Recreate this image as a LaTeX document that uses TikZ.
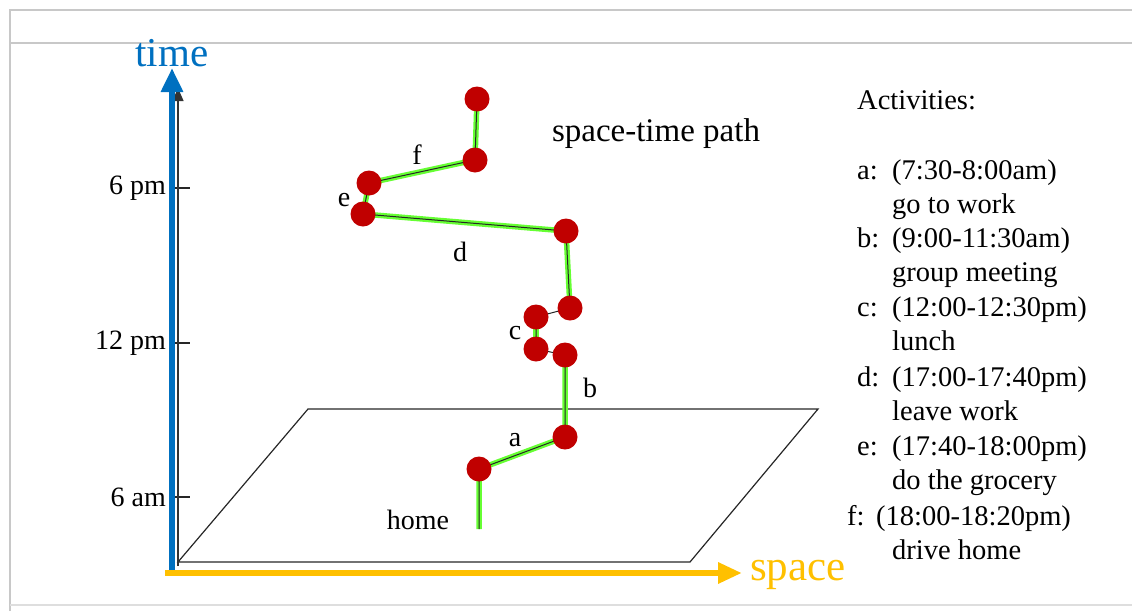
\documentclass[tikz,border=0pt]{standalone}
\usepackage{fontspec}
\setmainfont{Liberation Serif}
\usetikzlibrary{arrows.meta}
\definecolor{tblue}{HTML}{0070C0}
\definecolor{sorange}{HTML}{FFC000}
\definecolor{dred}{HTML}{C00000}
\definecolor{pgreen}{HTML}{66FF33}
\definecolor{framegray}{HTML}{C8C8C8}
\tikzset{
  dot/.style={circle,fill=dred,draw=none,minimum size=25pt,inner sep=0pt},
  gseg/.style={pgreen,line width=5.5pt},
  bseg/.style={black!85,line width=1pt},
  lbl/.style={font=\fontsize{28}{34}\selectfont,inner sep=0pt},
  lst/.style={font=\fontsize{28.5}{34}\selectfont,inner sep=0pt,anchor=base west},
}
\begin{document}
\begin{tikzpicture}[x=1pt,y=-1pt]
\useasboundingbox (0,0) rectangle (1132,611);
% frame
\draw[framegray,line width=2pt] (10,611) -- (10,10) -- (1132,10);
\draw[framegray,line width=2pt] (10,43) -- (1132,43);
\draw[framegray!60,line width=1.5pt] (10,605) -- (1132,605);
% plane
\draw[black!85,line width=1.2pt] (178,562) -- (690,562) -- (818,409) -- (308,409) -- cycle;
% ticks
\foreach \y/\t/\n in {188/6 pm/tpm,343/12 pm/tnoon,497/6 am/tam}{
  \coordinate (\n) at (172,\y);
  \draw[black!85,line width=1.2pt] (\n) -- ++(18,0);
  \node[lbl,anchor=east] at (166,\y) {\t};
}
% axes
\coordinate (ttip) at (172,68);
\coordinate (stip) at (742,573);
\draw[black!80,line width=1.2pt,-{Triangle[length=13pt,width=11pt]}] (178,566) -- (178,88);
\draw[tblue,line width=6pt,-{Triangle[length=24pt,width=21pt]}] (172,570) -- (ttip);
\draw[sorange,line width=6pt,-{Triangle[length=24pt,width=20pt]}] (165,573) -- (stip);
\node[font=\fontsize{41}{41}\selectfont,text=tblue,inner sep=0pt,anchor=base] (time) at (172,66) {time};
\node[font=\fontsize{43}{43}\selectfont,text=sorange,inner sep=0pt,anchor=base west] (space) at (750,580) {space};
% path points
\coordinate (h) at (479,529);
\coordinate (p1) at (479,469);
\coordinate (p2) at (565,437);
\coordinate (p3) at (565,355);
\coordinate (p4) at (536,349);
\coordinate (p5) at (536,317);
\coordinate (p6) at (570,308);
\coordinate (p7) at (566,231);
\coordinate (p8) at (363,214);
\coordinate (p9) at (369,183);
\coordinate (p10) at (475,160);
\coordinate (p11) at (477,99);
\begin{scope}[shift={(2.2,2.4)}]
\draw[gseg] (h) -- (p1) -- (p2) -- (p3);
\draw[gseg] (p4) -- (p5);
\draw[gseg] (p6) -- (p7) -- (p8) -- (p9) -- (p10) -- (p11);
\end{scope}
\draw[bseg] (h) -- (p1) -- (p2) -- (p3) -- (p4) -- (p5) -- (p6) -- (p7) -- (p8) -- (p9) -- (p10) -- (p11);
\foreach \p in {p1,p2,p3,p4,p5,p6,p7,p8,p9,p10,p11}{
  \node[dot] (d\p) at (\p) {};
}
% labels
\node[lbl] (la) at (515,440) {a};
\node[lbl] (lb) at (590,388) {b};
\node[lbl] (lc) at (515,333) {c};
\node[lbl] (ld) at (460,252) {d};
\node[lbl] (le) at (344,200) {e};
\node[lbl] (lf) at (417,155) {f};
\node[lbl] (home) at (418,520) {home};
\node[font=\fontsize{33}{36}\selectfont,inner sep=0pt] (stp) at (656,134) {space-time path};
% activity list
\node[lst] (act) at (857,109) {Activities:};
\foreach \y/\k/\a/\b in {170/a:/(7:30-8:00am)/go to work,
                         238/b:/(9:00-11:30am)/group meeting,
                         307/c:/(12:00-12:30pm)/lunch,
                         377/d:/(17:00-17:40pm)/leave work,
                         446/e:/(17:40-18:00pm)/do the grocery}{
  \node[lst] at (857,\y+9) {\k};
  \node[lst] at (892,\y+9) {\a};
  \node[lst] at (892,\y+43.5) {\b};
}
\node[lst] (kf) at (847,525) {f:};
\node[lst] (af) at (876,525) {(18:00-18:20pm)};
\node[lst] (bf) at (892,559) {drive home};
\end{tikzpicture}
\end{document}
